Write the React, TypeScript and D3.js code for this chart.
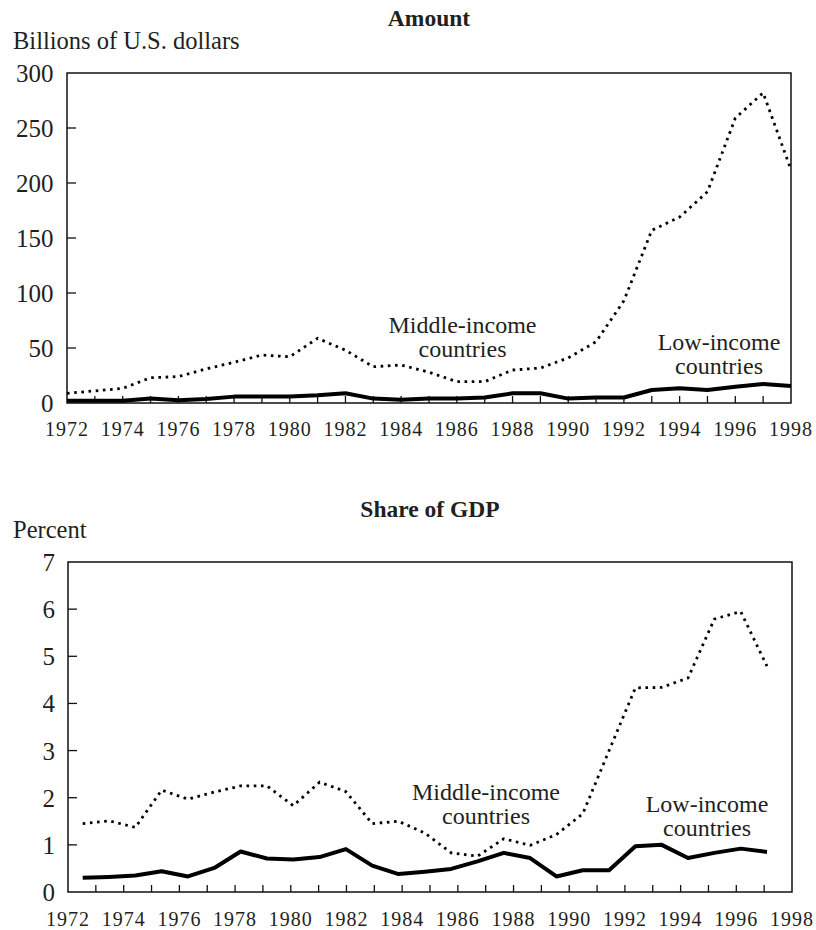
import React from "react";
import * as d3 from "d3";

// ---- data ----
const years = [1972, 1973, 1974, 1975, 1976, 1977, 1978, 1979, 1980, 1981, 1982, 1983, 1984, 1985, 1986, 1987, 1988, 1989, 1990, 1991, 1992, 1993, 1994, 1995, 1996, 1997, 1998];
const xTickLabels = ["1972", "1974", "1976", "1978", "1980", "1982", "1984", "1986", "1988", "1990", "1992", "1994", "1996", "1998"];

const amountMiddle = [8.8, 11, 13.3, 23, 24, 31, 37, 43.6, 42, 58.8, 48, 33, 34.5, 28, 19.4, 19.4, 30, 31.8, 41, 55.7, 93, 157, 169, 192, 259, 282, 212];
const amountLow = [2, 2, 2, 4, 2.5, 3.6, 5.8, 5.8, 5.8, 7, 8.8, 4, 3, 4, 4, 5, 8.8, 8.8, 4, 5, 5, 11.8, 13.3, 11.8, 14.8, 17.3, 15.5];
const amountTicks = [0, 50, 100, 150, 200, 250, 300];

const shareMiddle = [1.45, 1.51, 1.37, 2.16, 1.97, 2.12, 2.25, 2.25, 1.83, 2.33, 2.13, 1.45, 1.5, 1.25, 0.83, 0.76, 1.13, 0.99, 1.22, 1.66, 3.0, 4.33, 4.34, 4.54, 5.79, 5.95, 4.79];
const shareLow = [0.3, 0.32, 0.35, 0.44, 0.33, 0.51, 0.86, 0.71, 0.69, 0.74, 0.91, 0.56, 0.38, 0.43, 0.49, 0.65, 0.83, 0.72, 0.33, 0.46, 0.46, 0.97, 1.0, 0.72, 0.83, 0.92, 0.85];
const shareTicks = [0, 1, 2, 3, 4, 5, 6, 7];

const FONT = "'Liberation Serif', 'Times New Roman', serif";
const TXT = "#231f20";

type Ann = { lines: string[]; x: number; y: number };

function Panel(props: {
  left: number; top: number; right: number; bottom: number;
  yMax: number; yTicks: number[];
  dataX0: number; dataX1: number;
  middle: number[]; low: number[];
  title: string; titleY: number;
  yTitle: string; yTitleY: number;
  labelRight: number; xLabelY: number;
  annMiddle: Ann; annLow: Ann;
}) {
  const { left, top, right, bottom } = props;
  const xAxis = d3.scaleLinear().domain([1972, 1998]).range([left, right]);
  const xData = d3.scalePoint<number>().domain(years).range([props.dataX0, props.dataX1]);
  const y = d3.scaleLinear().domain([0, props.yMax]).range([bottom, top]);
  const line = d3.line<number>().x((_, i) => xData(years[i]) as number).y((d) => y(d));
  const innerYears = years.slice(1, -1);
  const ann = (a: Ann, key: string) =>
    a.lines.map((l, i) => (
      <text key={key + i} x={a.x} y={a.y + i * 24} textAnchor="middle" fontSize={24} fill={TXT} fontFamily={FONT}>
        {l}
      </text>
    ));
  return (
    <g>
      <text x={(left + right) / 2} y={props.titleY} textAnchor="middle" fontSize={23.5} fontWeight="bold" fill={TXT} fontFamily={FONT}>
        {props.title}
      </text>
      <text x={13} y={props.yTitleY} fontSize={24.5} fill={TXT} fontFamily={FONT}>{props.yTitle}</text>
      {/* frame */}
      <rect x={left} y={top} width={right - left} height={bottom - top} fill="none" stroke="#111" strokeWidth={1.5} />
      {/* y ticks */}
      {props.yTicks.map((t) => (
        <g key={"y" + t}>
          {t > 0 && t < props.yMax && <line x1={left} x2={left + 9} y1={y(t)} y2={y(t)} stroke="#111" strokeWidth={1.3} />}
          <text x={props.labelRight} y={y(t)} dy="0.36em" textAnchor="end" fontSize={25} fill={TXT} fontFamily={FONT}>{t}</text>
        </g>
      ))}
      {/* x ticks */}
      {innerYears.map((yr) => (
        <line key={"x" + yr} x1={xAxis(yr)} x2={xAxis(yr)} y1={bottom} y2={bottom - 7} stroke="#111" strokeWidth={1.3} />
      ))}
      {xTickLabels.map((l) => (
        <text key={"l" + l} x={xAxis(+l)} y={props.xLabelY} textAnchor="middle" fontSize={20} letterSpacing={1} fill={TXT} fontFamily={FONT}>{l}</text>
      ))}
      {/* series */}
      <path d={line(props.middle) || ""} fill="none" stroke="#000" strokeWidth={2.8} strokeDasharray="2.6 4.6" />
      <path d={line(props.low) || ""} fill="none" stroke="#000" strokeWidth={4} strokeLinejoin="round" />
      {ann(props.annMiddle, "am")}
      {ann(props.annLow, "al")}
    </g>
  );
}

export default function App() {
  return (
    <svg width={816} height={930} style={{ position: "absolute", left: 0, top: 0, background: "#fff" }}>
      <Panel
        left={67} top={73} right={791} bottom={403}
        yMax={300} yTicks={amountTicks}
        dataX0={67} dataX1={791}
        middle={amountMiddle} low={amountLow}
        title="Amount" titleY={26}
        yTitle="Billions of U.S. dollars" yTitleY={49}
        labelRight={53.5} xLabelY={436}
        annMiddle={{ lines: ["Middle-income", "countries"], x: 462.5, y: 333 }}
        annLow={{ lines: ["Low-income", "countries"], x: 719, y: 350 }}
      />
      <Panel
        left={68} top={562} right={792} bottom={892}
        yMax={7} yTicks={shareTicks}
        dataX0={82.7} dataX1={767}
        middle={shareMiddle} low={shareLow}
        title="Share of GDP" titleY={517}
        yTitle="Percent" yTitleY={538}
        labelRight={55} xLabelY={926}
        annMiddle={{ lines: ["Middle-income", "countries"], x: 486, y: 800 }}
        annLow={{ lines: ["Low-income", "countries"], x: 707, y: 812 }}
      />
    </svg>
  );
}
